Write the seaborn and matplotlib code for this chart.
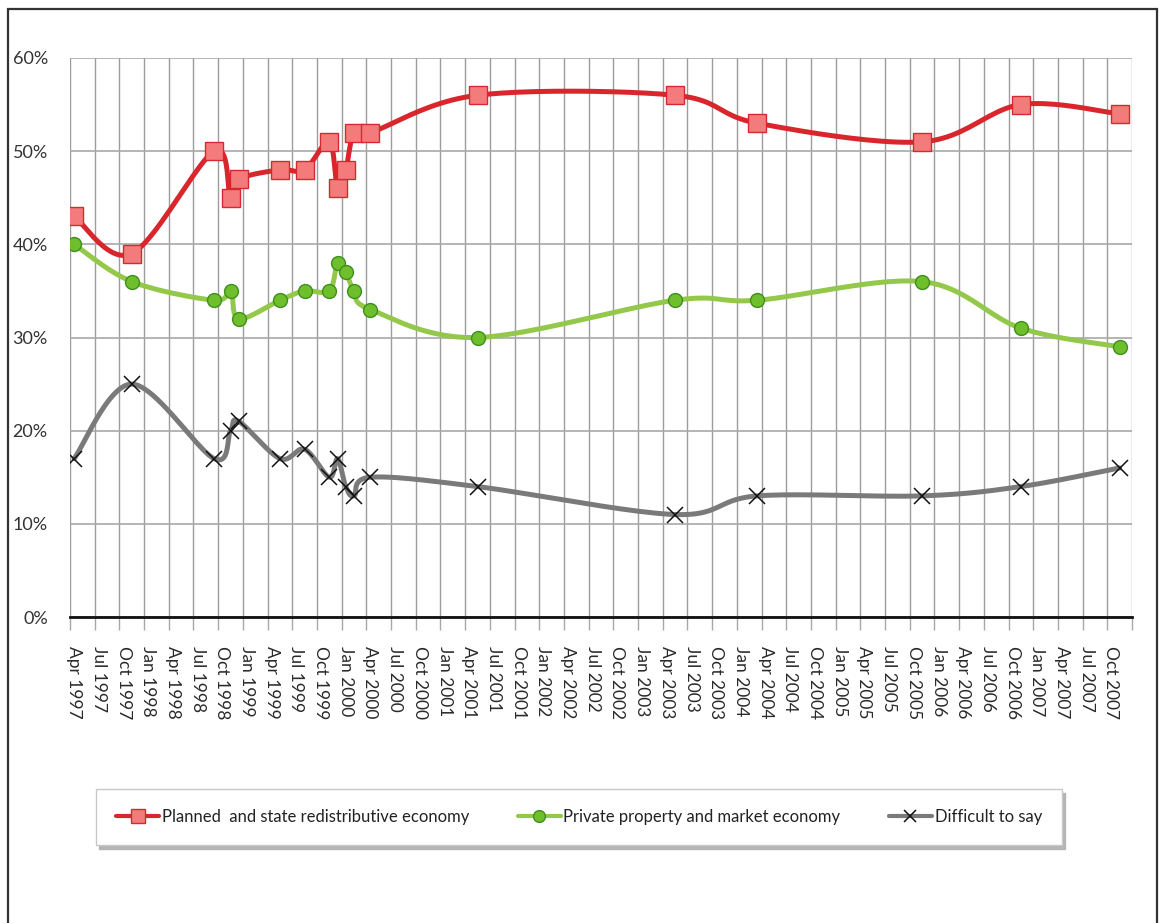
import numpy as np
import pandas as pd
import seaborn as sns
import matplotlib
matplotlib.use("Agg")
import matplotlib.pyplot as plt
from matplotlib.lines import Line2D
from matplotlib.patches import Rectangle

# Survey waves (year-month) and shares of respondents, %
survey_dates = ["1997-04", "1997-11", "1998-09", "1998-11", "1998-12", "1999-05",
                "1999-08", "1999-11", "1999-12", "2000-01", "2000-02", "2000-04",
                "2001-05", "2003-05", "2004-03", "2005-11", "2006-11", "2007-11"]
planned = [43, 39, 50, 45, 47, 48, 48, 51, 46, 48, 52, 52, 56, 56, 53, 51, 55, 54]
private = [40, 36, 34, 35, 32, 34, 35, 35, 38, 37, 35, 33, 30, 34, 34, 36, 31, 29]
difficult = [17, 25, 17, 20, 21, 17, 18, 15, 17, 14, 13, 15, 14, 11, 13, 13, 14, 16]

series_names = ["Planned  and state redistributive economy",
                "Private property and market economy",
                "Difficult to say"]

quarter_labels = [
    "Apr 1997", "Jul 1997", "Oct 1997", "Jan 1998", "Apr 1998", "Jul 1998",
    "Oct 1998", "Jan 1999", "Apr 1999", "Jul 1999", "Oct 1999", "Jan 2000",
    "Apr 2000", "Jul 2000", "Oct 2000", "Jan 2001", "Apr 2001", "Jul 2001",
    "Oct 2001", "Jan 2002", "Apr 2002", "Jul 2002", "Oct 2002", "Jan 2003",
    "Apr 2003", "Jul 2003", "Oct 2003", "Jan 2004", "Apr 2004", "Jul 2004",
    "Oct 2004", "Jan 2005", "Apr 2005", "Jul 2005", "Oct 2005", "Jan 2006",
    "Apr 2006", "Jul 2006", "Oct 2006", "Jan 2007", "Apr 2007", "Jul 2007",
    "Oct 2007"]
y_ticks = [0, 10, 20, 30, 40, 50, 60]

sns.set_theme(style="white")
plt.rcParams["font.family"] = ["Lato", "DejaVu Sans"]

# month axis: 0 = start of Apr 1997, each observation sits mid-month
start = pd.Period("1997-04", freq="M")
month_idx = np.array([(pd.Period(d, freq="M") - start).n for d in survey_dates]) + 0.5
n_months = len(quarter_labels) * 3


def smooth_curve(x, y, steps=24):
    """Cardinal (Catmull-Rom) Bezier smoothing through every point."""
    x = np.asarray(x, float)
    y = np.asarray(y, float)
    px = np.concatenate([[x[0]], x, [x[-1]]])
    py = np.concatenate([[y[0]], y, [y[-1]]])
    t = np.linspace(0, 1, steps)[:, None]
    out_x, out_y = [], []
    for i in range(1, len(px) - 2):
        p0 = np.array([px[i], py[i]])
        p3 = np.array([px[i + 1], py[i + 1]])
        c1 = p0 + (p3 - np.array([px[i - 1], py[i - 1]])) / 6.0
        c2 = p3 - (np.array([px[i + 2], py[i + 2]]) - p0) / 6.0
        pts = ((1 - t) ** 3) * p0 + 3 * ((1 - t) ** 2) * t * c1 + 3 * (1 - t) * t ** 2 * c2 + t ** 3 * p3
        out_x.extend(pts[:, 0])
        out_y.extend(pts[:, 1])
    return np.array(out_x), np.array(out_y)


fig = plt.figure(figsize=(11.6, 9.23), dpi=100)
ax = fig.add_axes([70 / 1160, 1 - 617 / 923, (1132 - 70) / 1160, (617 - 58) / 923])

styles = [
    dict(values=planned, line="#d9262c", lw=3.6, marker="s", ms=12.5,
         mfc="#f47b7c", mec="#d42a2f", mew=1.0),
    dict(values=private, line="#93c84a", lw=3.6, marker="o", ms=10,
         mfc="#6fbe2c", mec="#3f8f1e", mew=1.0),
    dict(values=difficult, line="#7a7a7a", lw=3.6, marker="x", ms=11,
         mfc="#111111", mec="#111111", mew=1.1),
]

for st in styles:
    cx, cy = smooth_curve(month_idx, st["values"])
    sns.lineplot(x=cx, y=cy, sort=False, estimator=None, color=st["line"],
                 linewidth=st["lw"], ax=ax, zorder=3, legend=False)
    ax.plot(month_idx, st["values"], linestyle="none", marker=st["marker"],
            markersize=st["ms"], markerfacecolor=st["mfc"],
            markeredgecolor=st["mec"], markeredgewidth=st["mew"], zorder=4)

ax.set_xlim(0, n_months)
ax.set_ylim(0, 60)

# quarter gridlines with short ticks below the axis
ax.set_xticks(np.arange(0, n_months + 1, 3))
ax.set_xticklabels([])
ax.tick_params(axis="x", which="major", length=9, width=1, color="#a8a8a8",
               direction="out", bottom=True)
ax.set_xticks(np.arange(0, n_months, 3) + 0.5, minor=True)
ax.set_xticklabels(quarter_labels, minor=True, rotation=270, fontsize=12.5,
                   color="#2a2a2a", ha="center", va="top")
ax.tick_params(axis="x", which="minor", length=0, pad=21)

ax.set_yticks(y_ticks)
ax.set_yticklabels([f"{v}%" for v in y_ticks], fontsize=13, color="#333333")
ax.tick_params(axis="y", length=0, pad=16)

ax.grid(True, which="major", axis="x", color="#9c9c9c", linewidth=1.0, zorder=0)
ax.grid(True, which="major", axis="y", color="#a8a8a8", linewidth=1.2, zorder=0)
ax.set_axisbelow(True)
for side in ["left", "top", "right"]:
    ax.spines[side].set_visible(False)
ax.spines["bottom"].set_color("#111111")
ax.spines["bottom"].set_linewidth(2.0)

# legend
handles = [Line2D([0], [0], color=st["line"], lw=3.0, marker=st["marker"],
                  markersize=st["ms"] * 0.85, markerfacecolor=st["mfc"],
                  markeredgecolor=st["mec"], markeredgewidth=st["mew"])
           for st in styles]
leg = fig.legend(handles, series_names, loc="center",
                 bbox_to_anchor=(579 / 1160, 1 - 817 / 923), ncol=3,
                 frameon=True, fancybox=False, edgecolor="#c8c8c8",
                 shadow={"color": "#b5b5b5", "ox": 2, "oy": -3, "alpha": 1},
                 prop={"family": ["Lato", "DejaVu Sans"], "size": 12},
                 handlelength=2.6, handletextpad=0.15, columnspacing=2.9,
                 borderpad=1.2, borderaxespad=0)
leg.get_frame().set_linewidth(1.0)
for txt in leg.get_texts():
    txt.set_color("#222222")

# outer frame of the chart
fig.patches.append(Rectangle((8 / 1160, -0.05), (1157 - 8) / 1160, 1.05 - 9 / 923,
                             transform=fig.transFigure, fill=False,
                             edgecolor="#333333", linewidth=1.6))

fig.savefig("out.png", dpi=100, facecolor="white")
